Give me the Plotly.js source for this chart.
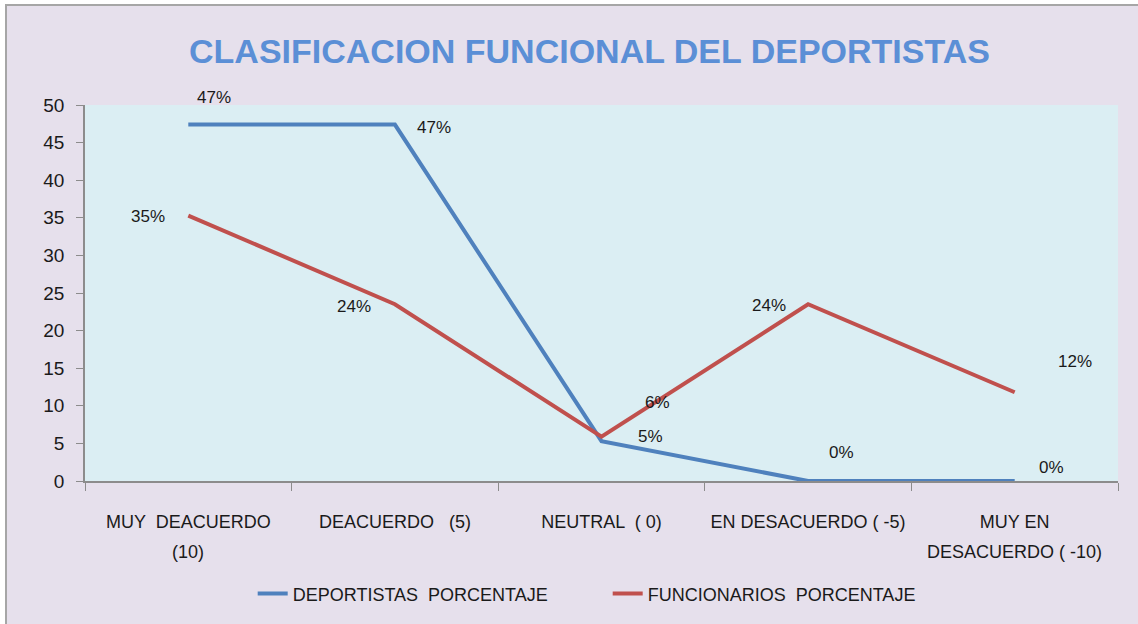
<!DOCTYPE html>
<html><head><meta charset="utf-8">
<script src="https://cdn.plot.ly/plotly-3.0.1.min.js"></script>
<style>
html,body{margin:0;padding:0;background:#fff;}
#frame{position:absolute;left:5px;top:4px;width:1140px;height:630px;border:2px solid #a6a6a6;background:#E6E0EC;}
#chart{position:absolute;left:0;top:0;width:1138px;height:624px;}
</style></head>
<body>
<div id="frame"></div>
<div id="chart"></div>
<script>
const categories = ["MUY  DEACUERDO", "DEACUERDO   (5)", "NEUTRAL  ( 0)", "EN DESACUERDO ( -5)", "MUY EN"];
const categorySecondLines = ["(10)", "", "", "", "DESACUERDO ( -10)"];
const deportistas = [47.4, 47.4, 5.3, 0, 0];
const funcionarios = [35.3, 23.5, 5.9, 23.5, 11.8];
const deportistasLabels = ["47%", "47%", "5%", "0%", "0%"];
const funcionariosLabels = ["35%", "24%", "6%", "24%", "12%"];

const FONT = "'Liberation Sans', Arial, sans-serif";
const depShift = [[26,27],[39,-3],[49,5],[33,29],[37,14]];
const funShift = [[-40,-1],[-41,-2],[56,34],[-39,-1],[60,31]];

const annotations = [];
categories.forEach((c,i)=>{
  annotations.push({x:c, y:deportistas[i], text:deportistasLabels[i], showarrow:false, xshift:depShift[i][0], yshift:depShift[i][1], font:{family:FONT,size:17,color:'#1a1a1a'}});
  annotations.push({x:c, y:funcionarios[i], text:funcionariosLabels[i], showarrow:false, xshift:funShift[i][0], yshift:funShift[i][1], font:{family:FONT,size:17,color:'#1a1a1a'}});
  if (categorySecondLines[i]) {
    annotations.push({x:c, xref:'x', yref:'paper', y:-0.19, yanchor:'middle', text:categorySecondLines[i], showarrow:false, font:{family:FONT,size:18,color:'#1a1a1a'}});
  }
});

const data = [
  {x:categories, y:deportistas, type:'scatter', mode:'lines', name:'DEPORTISTAS  PORCENTAJE', line:{color:'#4F81BD', width:4}},
  {x:categories, y:funcionarios, type:'scatter', mode:'lines', name:'FUNCIONARIOS  PORCENTAJE', line:{color:'#C0504D', width:4}}
];

const layout = {
  width:1138, height:624,
  paper_bgcolor:'rgba(0,0,0,0)', plot_bgcolor:'#DBEEF3',
  margin:{l:85, r:20, t:105, b:139},
  font:{family:FONT, size:17, color:'#1a1a1a'},
  title:{text:'<b>CLASIFICACION FUNCIONAL DEL DEPORTISTAS</b>', font:{family:FONT, size:34, color:'#5B8FD6'}, x:0.518, xanchor:'center', y:0.918, yanchor:'middle'},
  xaxis:{type:'category', tickson:'boundaries', ticks:'outside', ticklen:8, tickcolor:'#8c8c8c', showline:true, linecolor:'#8c8c8c', linewidth:1.5, showgrid:false, zeroline:false, ticklabelstandoff:24, tickfont:{family:FONT,size:18,color:'#1a1a1a'}, range:[-0.5,4.5]},
  yaxis:{range:[0,50], dtick:5, ticks:'outside', ticklen:7, tickcolor:'#8c8c8c', showline:true, linecolor:'#8c8c8c', linewidth:1.5, showgrid:false, zeroline:false, ticklabelstandoff:8, tickfont:{family:FONT,size:19,color:'#1a1a1a'}},
  showlegend:true,
  legend:{orientation:'h', x:0.506, xanchor:'center', y:-0.30, yanchor:'middle', entrywidth:310, bgcolor:'rgba(0,0,0,0)', font:{family:FONT,size:18,color:'#1a1a1a'}},
  annotations:annotations
};
Plotly.newPlot('chart', data, layout, {displayModeBar:false});
</script>
</body></html>
